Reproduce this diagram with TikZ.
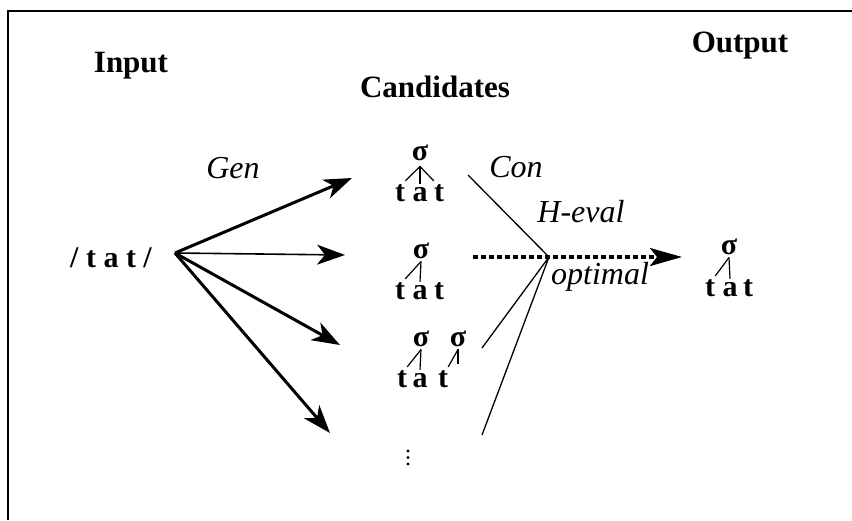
\documentclass[tikz,border=0pt]{standalone}
\usepackage{fontspec}
\setmainfont{Liberation Serif}
\usetikzlibrary{arrows.meta}
\begin{document}
\begin{tikzpicture}[x=1pt,y=-1pt,
  lbl/.style={font=\fontsize{31}{36}\selectfont\bfseries, inner sep=0, anchor=base},
  itl/.style={font=\fontsize{32}{38}\selectfont\itshape, inner sep=0, anchor=base},
  lt/.style={font=\fontsize{30}{36}\selectfont\bfseries, inner sep=0, anchor=base},
  tree/.style={line width=1.2pt},
  genarrow/.style={line width=3pt, -{Stealth[length=28pt,width=20pt,inset=8pt]}},
  thinarrow/.style={line width=1.6pt, -{Stealth[length=28pt,width=20pt,inset=8pt]}},
  evalline/.style={line width=1.3pt},
  optarrow/.style={line width=3.2pt, dash pattern=on 5pt off 3pt, -{Stealth[length=32pt,width=18pt,inset=7pt]}},
  dot/.style={circle, fill, inner sep=0, minimum size=3.4pt}
]
\useasboundingbox (0,0) rectangle (852,520);
% frame (top and left sides)
\draw[line width=2pt] (8,520) -- (8,11) -- (852,11);

% headings
\node[lbl] (input) at (131,72) {Input};
\node[lbl] (output) at (740,52) {Output};
\node[lbl] (cands) at (435,97) {Candidates};

% input
\node[lt] (in) at (111,267) {/ t a t /};
\coordinate (g) at (175,253);

% candidate 1
\node[lt] (s1) at (420,160) {σ};
\node[lt] (c1t) at (400,201) {t};
\node[lt] (c1a) at (420,201) {a};
\node[lt] (c1u) at (439,201) {t};
\draw[tree] ([yshift=-6pt]s1.south) -- ([yshift=3pt]c1t.north east);
\draw[tree] ([yshift=-6pt]s1.south) -- ([yshift=3pt]c1a.north);
\draw[tree] ([yshift=-6pt]s1.south) -- ([yshift=3pt]c1u.north west);

% candidate 2
\node[lt] (s2) at (421,258) {σ};
\node[lt] (c2t) at (400,299) {t};
\node[lt] (c2a) at (420,299) {a};
\node[lt] (c2u) at (439,299) {t};
\draw[tree] ([yshift=-3pt]s2.south) -- ([yshift=3pt]c2t.north east);
\draw[tree] ([yshift=-3pt]s2.south) -- ([yshift=3pt]c2a.north);

% candidate 3
\node[lt] (s3a) at (421,346) {σ};
\node[lt] (s3b) at (458,346) {σ};
\node[lt] (c3t) at (402,387) {t};
\node[lt] (c3a) at (420,387) {a};
\node[lt] (c3u) at (443,387) {t};
\coordinate (c3e) at (458,364);
\draw[tree] ([yshift=-3pt]s3a.south) -- ([yshift=3pt]c3t.north east);
\draw[tree] ([yshift=-3pt]s3a.south) -- ([yshift=3pt]c3a.north);
\draw[tree] ([yshift=-3pt]s3b.south) -- ([yshift=3pt]c3u.north east);
\draw[tree] ([yshift=-3pt]s3b.south) -- (c3e);

% more candidates
\node[dot] (d1) at (408,451) {};
\node[dot] (d2) at (408,457.5) {};
\node[dot] (d3) at (408,464) {};

% output
\node[lt] (so) at (729,254) {σ};
\node[lt] (ot) at (710,296) {t};
\node[lt] (oa) at (730,296) {a};
\node[lt] (ou) at (748,296) {t};
\draw[tree] ([yshift=-3pt]so.south) -- ([yshift=3pt]ot.north east);
\draw[tree] ([yshift=-3pt]so.south) -- ([yshift=3pt]oa.north);

% Gen arrows
\coordinate (e1) at (352,178);
\coordinate (e2) at (345,255);
\coordinate (e3) at (340,345);
\coordinate (e4) at (330,433);
\draw[genarrow] (g) -- (e1);
\draw[thinarrow] (g) -- (e2);
\draw[genarrow] (g) -- (e3);
\draw[genarrow] (g) -- (e4);
\node[itl] (gen) at (233,178) {Gen};

% evaluation
\coordinate (h) at (549,257);
\coordinate (f1) at (468,175);
\coordinate (f2) at (482,348);
\coordinate (f3) at (482,435);
\draw[evalline] (f1) -- (h);
\draw[evalline] (f2) -- (h);
\draw[evalline] (f3) -- (h);
\coordinate (o0) at (473,257);
\coordinate (o1) at (682,257);
\draw[optarrow] (o0) -- (o1);
\node[itl] (con) at (516,177) {Con};
\node[itl] (heval) at (581,222) {H-eval};
\node[itl] (opt) at (600,284) {optimal};
\end{tikzpicture}
\end{document}
